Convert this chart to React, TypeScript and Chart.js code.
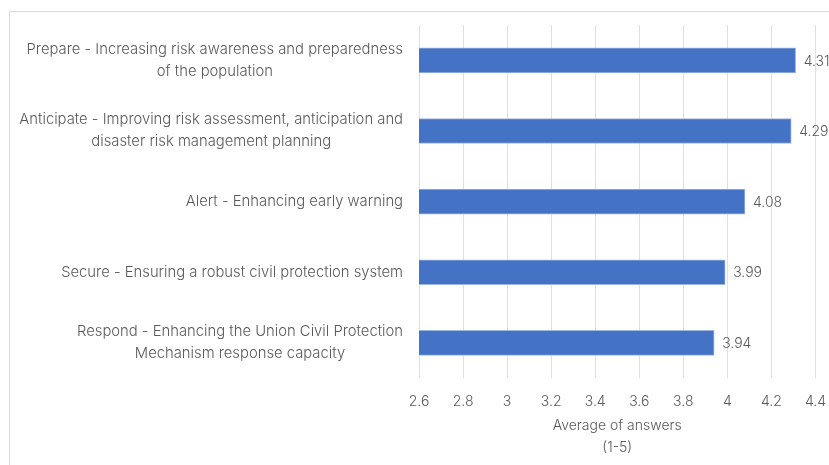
import React, { useEffect, useRef } from "react";
import { Chart, registerables } from "chart.js";

Chart.register(...registerables);

// Category labels, one array of lines per bar
const categories: string[][] = [
  ["Prepare - Increasing risk awareness and preparedness", "of the population"],
  ["Anticipate - Improving risk assessment, anticipation and", "disaster risk management planning"],
  ["Alert - Enhancing early warning"],
  ["Secure - Ensuring a robust civil protection system"],
  ["Respond - Enhancing the Union Civil Protection", "Mechanism response capacity"],
];

// Average score per objective
const averages: number[] = [4.31, 4.29, 4.08, 3.99, 3.94];

// Value axis
const axisMin = 2.6;
const axisMax = 4.4;
const axisStep = 0.2;
const axisTitle: string[] = ["Average of answers", "(1-5)"];

const FONT = "Inter, 'Noto Sans', sans-serif";
const TEXT = "#595959";

// Light frame around the whole figure
const framePlugin = {
  id: "frame",
  beforeDraw(chart: any) {
    const { ctx } = chart;
    ctx.save();
    ctx.strokeStyle = "#d9d9d9";
    ctx.lineWidth = 1;
    ctx.strokeRect(9.5, 11.5, chart.width + 40, chart.height + 40);
    ctx.restore();
  },
};

// Category labels: widest line right-aligned, other lines centred on it
const categoryLabelPlugin = {
  id: "categoryLabels",
  afterDraw(chart: any) {
    const { ctx } = chart;
    const yScale = chart.scales.y;
    const right = chart.chartArea.left - 16;
    const lineHeight = 22;
    ctx.save();
    ctx.font = `300 14.8px ${FONT}`;
    ctx.fillStyle = TEXT;
    ctx.textBaseline = "middle";
    ctx.textAlign = "center";
    categories.forEach((lines, i) => {
      const cy = yScale.getPixelForValue(i);
      const widest = Math.max(...lines.map((l) => ctx.measureText(l).width));
      const cx = right - widest / 2;
      const top = cy - ((lines.length - 1) * lineHeight) / 2;
      lines.forEach((line, j) => ctx.fillText(line, cx, top + j * lineHeight));
    });
    ctx.restore();
  },
};

// Value labels to the right of each bar
const valueLabelPlugin = {
  id: "valueLabels",
  afterDatasetsDraw(chart: any) {
    const { ctx } = chart;
    const meta = chart.getDatasetMeta(0);
    ctx.save();
    ctx.font = `300 14px ${FONT}`;
    ctx.fillStyle = TEXT;
    ctx.textBaseline = "middle";
    ctx.textAlign = "left";
    meta.data.forEach((bar: any, i: number) => {
      ctx.fillText(averages[i].toFixed(2), bar.x + 8, bar.y + 1);
    });
    ctx.restore();
  },
};

export default function App() {
  const canvasRef = useRef<HTMLCanvasElement | null>(null);

  useEffect(() => {
    document.body.style.margin = "0";
    const canvas = canvasRef.current;
    if (!canvas) return;
    const chart = new Chart(canvas, {
      type: "bar",
      data: {
        labels: categories.map((c) => c.join(" ")),
        datasets: [
          {
            data: averages,
            backgroundColor: "#4472C4",
            borderColor: "#9DB5E3",
            borderWidth: 1,
            barThickness: 25,
          },
        ],
      },
      options: {
        indexAxis: "y",
        animation: false,
        responsive: false,
        maintainAspectRatio: false,
        layout: { padding: { left: 419, top: 25, right: 0, bottom: 6 } },
        plugins: {
          legend: { display: false },
          tooltip: { enabled: false },
        },
        scales: {
          x: {
            min: axisMin,
            max: axisMax,
            ticks: {
              stepSize: axisStep,
              color: TEXT,
              font: { family: FONT, size: 14, weight: 300, lineHeight: 1.2 },
              padding: 15,
              callback: (v: any) => String(Number(Number(v).toFixed(1))),
            },
            grid: { color: "#e0e0e0", drawTicks: false },
            border: { display: false },
            title: {
              display: true,
              text: axisTitle,
              color: TEXT,
              font: { family: FONT, size: 14, weight: 300, lineHeight: 22 / 14 },
              padding: { top: -10, bottom: 0 },
            },
          },
          y: {
            ticks: { display: false },
            grid: { display: false },
            border: { display: false },
            afterFit: (s: any) => {
              s.width = 0;
            },
          },
        },
      },
      plugins: [framePlugin, categoryLabelPlugin, valueLabelPlugin],
    });
    return () => chart.destroy();
  }, []);

  return (
    <div style={{ width: 829, height: 465, overflow: "hidden", background: "#fff" }}>
      <canvas ref={canvasRef} width={841} height={465} style={{ display: "block" }} />
    </div>
  );
}
